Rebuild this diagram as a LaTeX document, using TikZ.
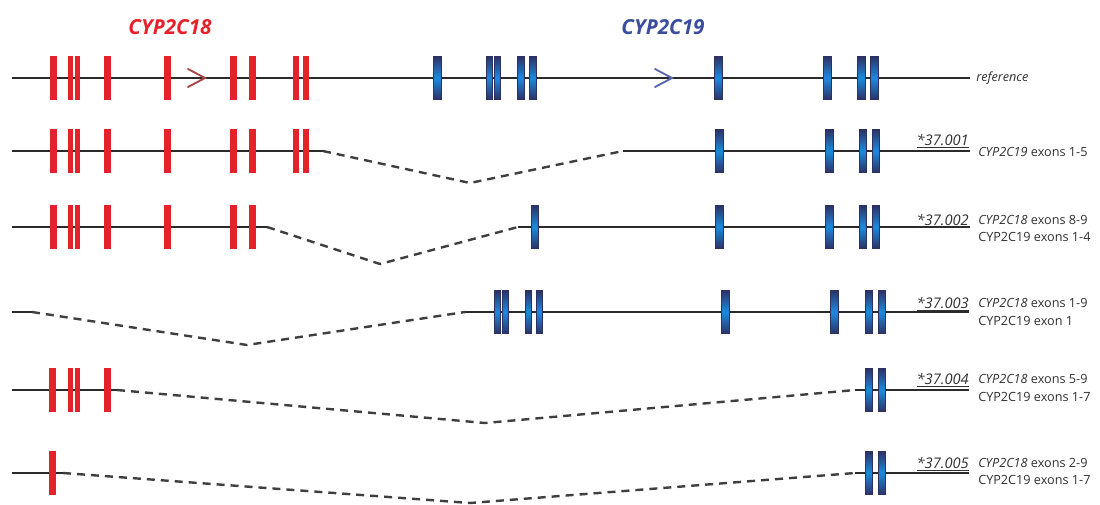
\documentclass[tikz,border=0pt]{standalone}
\usepackage{fontspec}
\setmainfont{Open Sans}
\definecolor{exred}{HTML}{E3222B}
\definecolor{titlered}{HTML}{E8202C}
\definecolor{titleblue}{HTML}{3B4D9E}
\definecolor{exnavy}{HTML}{2C3163}
\definecolor{exblue}{HTML}{1C8AE0}
\definecolor{wire}{HTML}{2A2A2A}
\definecolor{labelgrey}{HTML}{303030}
\definecolor{arrowred}{HTML}{A84646}
\begin{document}
\begin{tikzpicture}[x=0.75pt,y=-0.75pt,
  backbone/.style={draw=wire,line width=1.9pt},
  splice/.style={draw=wire!90,line width=1.8pt,dash pattern=on 6pt off 4.5pt},
  redexon/.style={rectangle,fill=exred,inner sep=0pt,minimum width=5.25pt,minimum height=32.5pt},
  blueexon/.style={rectangle,draw=exnavy,line width=0.5pt,top color=exnavy,bottom color=exnavy,middle color=exblue,inner sep=0pt,minimum width=5.6pt,minimum height=32.5pt},
  genetitle/.style={font=\fontsize{15.5}{18}\selectfont\bfseries\itshape,inner sep=0pt},
  allele/.style={font=\fontsize{11}{13}\selectfont\itshape,text=labelgrey,inner sep=0pt,anchor=base east},
  note/.style={font=\fontsize{9.5}{11}\selectfont,text=labelgrey,inner sep=0pt,anchor=base west},
  chevron/.style={line width=1.4pt,line cap=round,line join=miter}]
\useasboundingbox (0,0) rectangle (1100,504);

% gene names
\node[genetitle,text=titlered] (t18) at (170,27) {CYP2C18};
\node[genetitle,text=titleblue] (t19) at (663,27) {CYP2C19};

% reference locus
\coordinate (r0s) at (12,78);
\coordinate (r0e) at (970,78);
\draw[backbone] (r0s) -- (r0e);
\foreach \x/\w [count=\i] in {53.5/7,70.5/5,77/5,107.5/7,167/7,233.5/7,252.5/7,296/6,306/6}
  \node[redexon,minimum width=0.75*\w pt] (r0a\i) at (\x,78) {};
\foreach \x/\w [count=\i] in {437.5/8,489.5/6,497.5/6,520.5/7,532.5/7,718/8,827.5/8,861.5/8,874.5/8}
  \node[blueexon,minimum width=0.75*\w pt] (r0b\i) at (\x,78) {};
\draw[chevron,draw=arrowred] (188,69) -- (205,78) -- (188,87);
\draw[chevron,draw=titleblue!85] (655,69) -- (672,78) -- (655,87);
\node[note,font=\fontsize{9.5}{11}\selectfont\itshape,anchor=west] (ref) at (976,78) {reference};

% *37.001
\coordinate (r1s) at (12,151);
\coordinate (r1e) at (323,151);
\coordinate (r1v) at (470,183);
\coordinate (r1b) at (623,151);
\coordinate (r1z) at (970,151);
\draw[backbone] (r1s) -- (r1e);
\draw[splice] (r1e) -- (r1v) -- (r1b);
\draw[backbone] (r1b) -- (r1z);
\foreach \x/\w [count=\i] in {53.5/7,70.5/5,77/5,107.5/7,167/7,233.5/7,252.5/7,296/6,306/6}
  \node[redexon,minimum width=0.75*\w pt] (r1a\i) at (\x,151) {};
\foreach \x/\w [count=\i] in {719/8,829/8,862.5/7,875.5/7}
  \node[blueexon,minimum width=0.75*\w pt] (r1b\i) at (\x,151) {};
\node[allele] (h1) at (969,145) {\underline{*37.001}};
\node[note] (d1a) at (978,156.5) {\textit{CYP2C19} exons 1-5};

% *37.002
\coordinate (r2s) at (12,227);
\coordinate (r2e) at (267,227);
\coordinate (r2v) at (380,264);
\coordinate (r2b) at (518,227);
\coordinate (r2z) at (970,227);
\draw[backbone] (r2s) -- (r2e);
\draw[splice] (r2e) -- (r2v) -- (r2b);
\draw[backbone] (r2b) -- (r2z);
\foreach \x/\w [count=\i] in {53.5/7,70.5/5,77/5,107.5/7,167/7,233.5/7,252.5/7}
  \node[redexon,minimum width=0.75*\w pt] (r2a\i) at (\x,227) {};
\foreach \x/\w [count=\i] in {534.5/7,719/8,829/8,862.5/7,875.5/7}
  \node[blueexon,minimum width=0.75*\w pt] (r2b\i) at (\x,227) {};
\node[allele] (h2) at (969,225.5) {\underline{*37.002}};
\node[note] (d2a) at (978,224.5) {\textit{CYP2C18} exons 8-9};
\node[note] (d2b) at (978,241.5) {CYP2C19 exons 1-4};

% *37.003
\coordinate (r3s) at (12,312);
\coordinate (r3e) at (32,312);
\coordinate (r3v) at (247,345);
\coordinate (r3b) at (465,312);
\coordinate (r3z) at (969,312);
\draw[backbone] (r3s) -- (r3e);
\draw[splice] (r3e) -- (r3v) -- (r3b);
\draw[backbone] (r3b) -- (r3z);
\foreach \x/\w [count=\i] in {497/6,505.5/6,528/6,539.5/6,725/8,834.5/8,868.5/7,881.5/7}
  \node[blueexon,minimum width=0.75*\w pt] (r3b\i) at (\x,312) {};
\node[allele] (h3) at (969,308) {\underline{*37.003}};
\node[note] (d3a) at (978,307.5) {\textit{CYP2C18} exons 1-9};
\node[note] (d3b) at (978,325.5) {CYP2C19 exon 1};

% *37.004
\coordinate (r4s) at (12,390);
\coordinate (r4e) at (117,390);
\coordinate (r4v) at (485,423);
\coordinate (r4b) at (855,390);
\coordinate (r4z) at (969,390);
\draw[backbone] (r4s) -- (r4e);
\draw[splice] (r4e) -- (r4v) -- (r4b);
\draw[backbone] (r4b) -- (r4z);
\foreach \x/\w [count=\i] in {52.5/7,70.5/5,77/5,107/7}
  \node[redexon,minimum width=0.75*\w pt] (r4a\i) at (\x,390) {};
\foreach \x/\w [count=\i] in {868.5/7,881.5/7}
  \node[blueexon,minimum width=0.75*\w pt] (r4b\i) at (\x,390) {};
\node[allele] (h4) at (969,384) {\underline{*37.004}};
\node[note] (d4a) at (978,383.5) {\textit{CYP2C18} exons 5-9};
\node[note] (d4b) at (978,401.5) {CYP2C19 exons 1-7};

% *37.005
\coordinate (r5s) at (12,473);
\coordinate (r5e) at (63,473);
\coordinate (r5v) at (470,503);
\coordinate (r5b) at (855,473);
\coordinate (r5z) at (969,473);
\draw[backbone] (r5s) -- (r5e);
\draw[splice] (r5e) -- (r5v) -- (r5b);
\draw[backbone] (r5b) -- (r5z);
\node[redexon] (r5a1) at (52.5,473) {};
\foreach \x/\w [count=\i] in {868.5/7,881.5/7}
  \node[blueexon,minimum width=0.75*\w pt] (r5b\i) at (\x,473) {};
\node[allele] (h5) at (969,468) {\underline{*37.005}};
\node[note] (d5a) at (978,467.5) {\textit{CYP2C18} exons 2-9};
\node[note] (d5b) at (978,484.5) {CYP2C19 exons 1-7};
\end{tikzpicture}
\end{document}
